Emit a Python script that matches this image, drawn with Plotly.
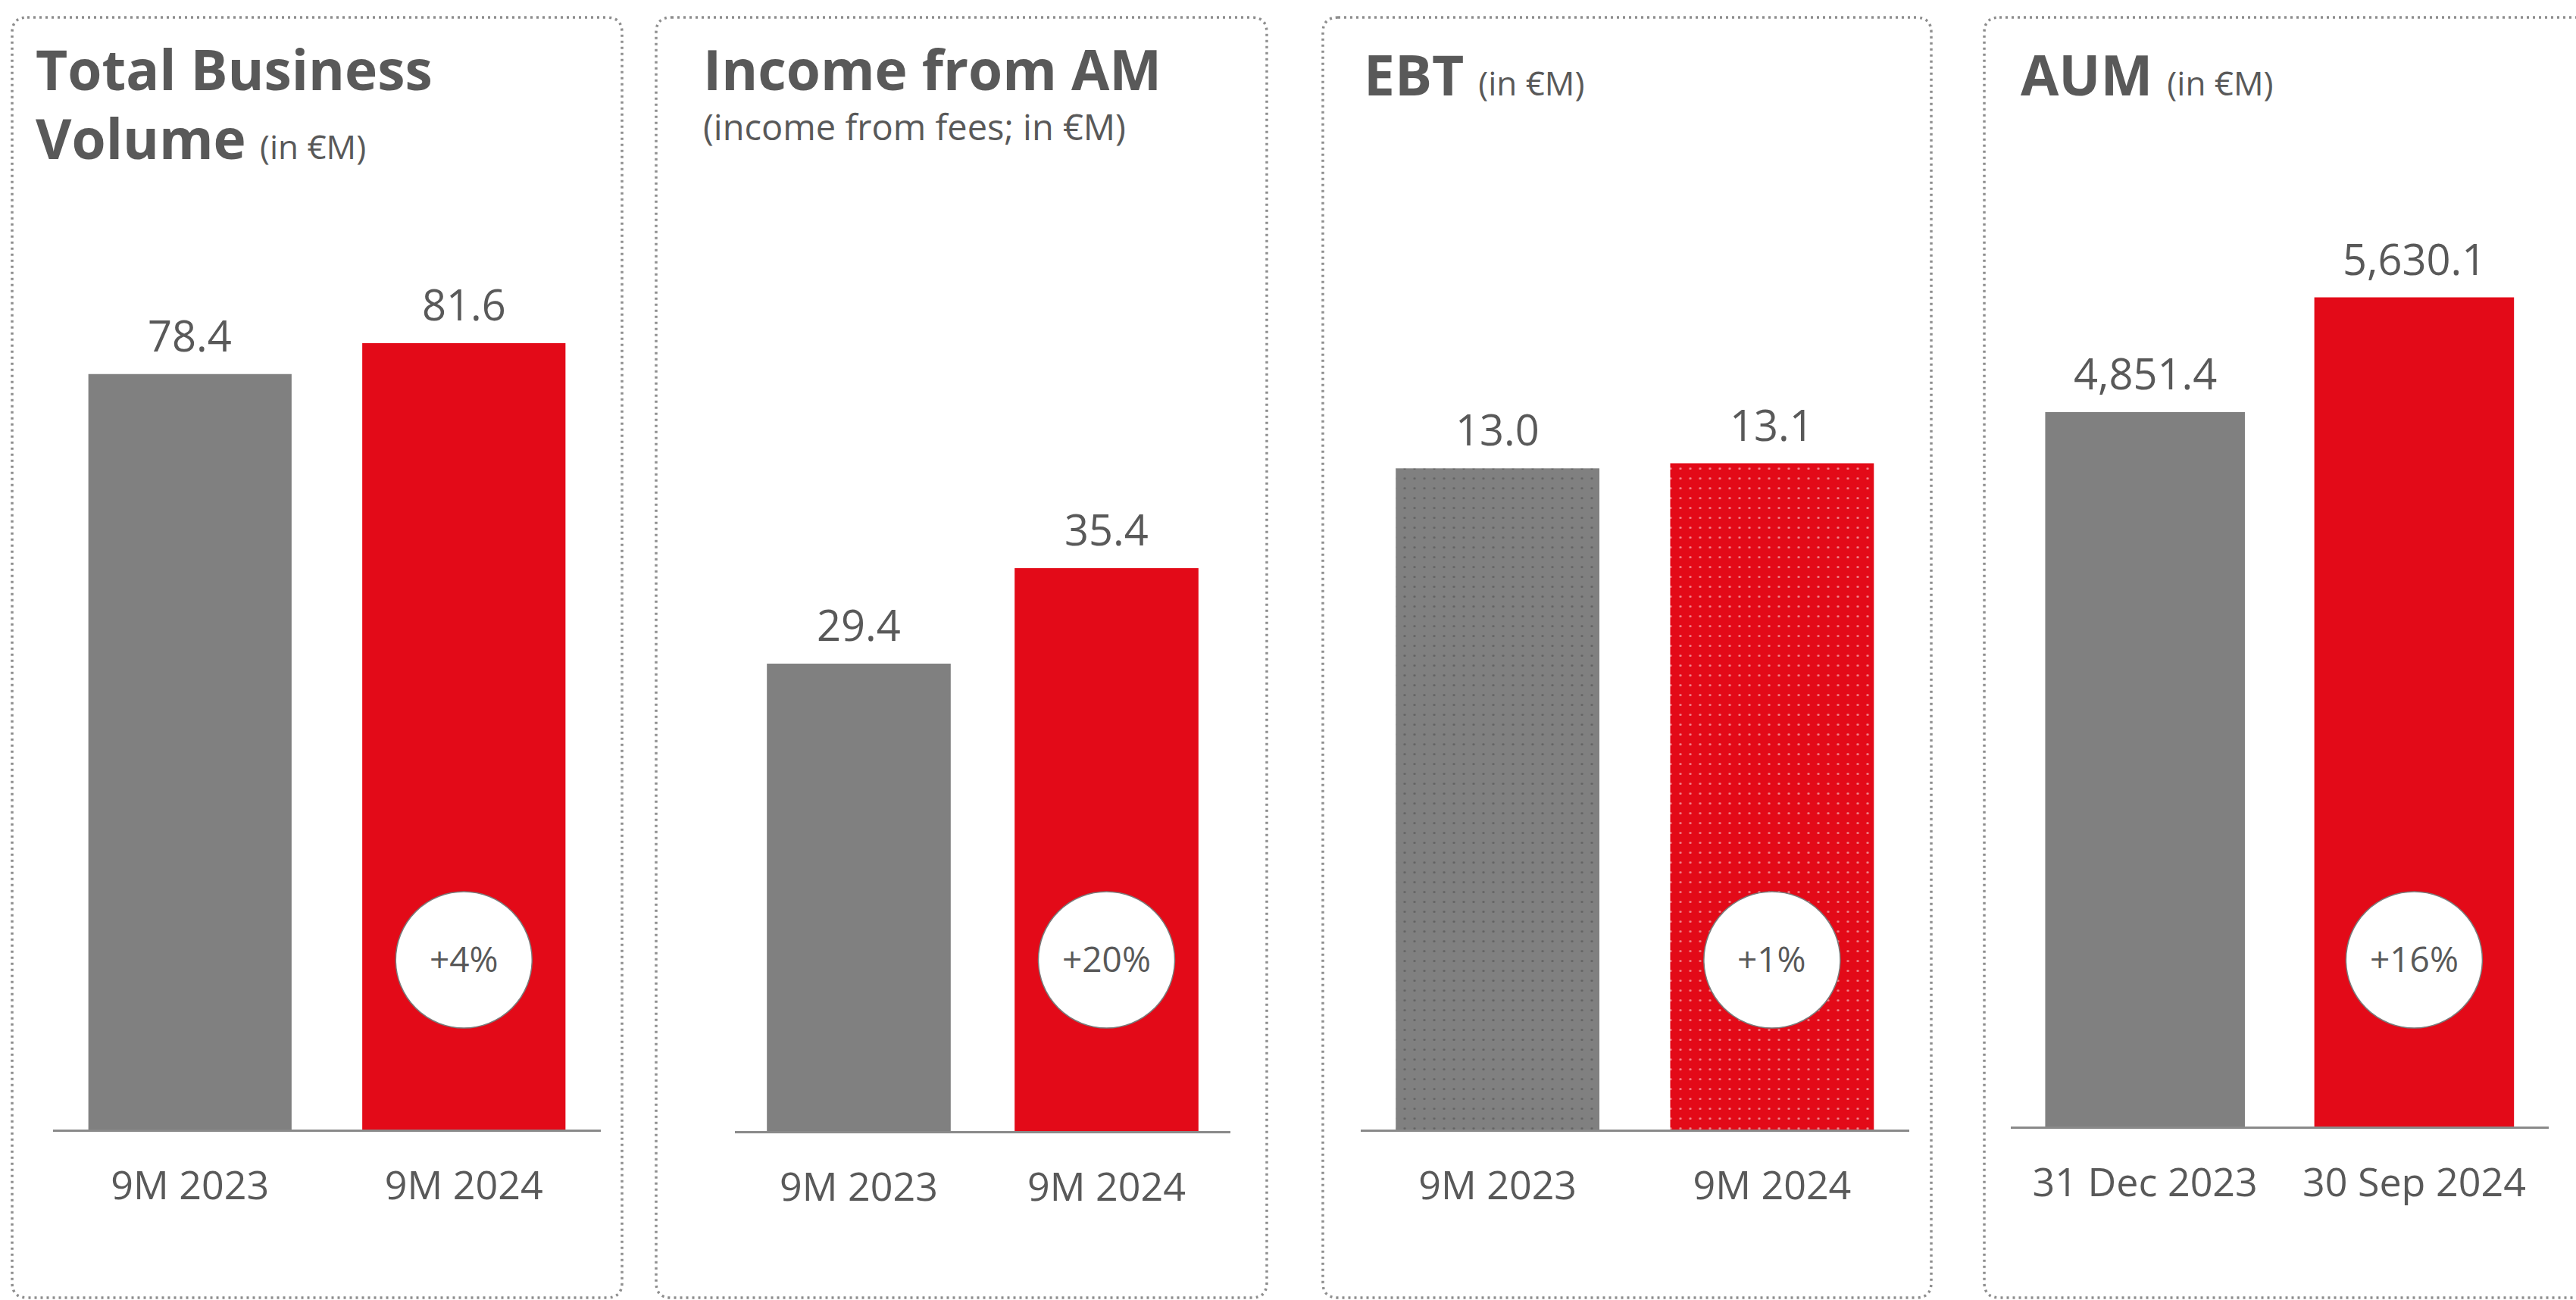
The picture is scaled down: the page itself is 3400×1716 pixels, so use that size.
import plotly.graph_objects as go

# ---- data -------------------------------------------------------------
tbv_periods = ["9M 2023", "9M 2024"]
tbv_values = [78.4, 81.6]

am_periods = ["9M 2023", "9M 2024"]
am_values = [29.4, 35.4]

ebt_periods = ["9M 2023", "9M 2024"]
ebt_values = [13.0, 13.1]

aum_dates = ["31 Dec 2023", "30 Sep 2024"]
aum_values = [4851.4, 5630.1]

# ---- styling ----------------------------------------------------------
W, H = 3400, 1716
GREY = "#808080"
RED = "#E30A18"
TEXT = "#595959"
FONT = "Open Sans"


def px_x(p):
    return p / W


def px_y(p):
    return 1 - p / H


# one entry per panel: data, axis geometry (pixels) and frame extent
panels = [
    dict(cats=tbv_periods, vals=tbv_values, x=(70, 793), base=1491, ymax=93.63,
         box=(16, 821), pattern=False),
    dict(cats=am_periods, vals=am_values, x=(970, 1624), base=1493, ymax=56.84,
         box=(866, 1672), pattern=False),
    dict(cats=ebt_periods, vals=ebt_values, x=(1795.5, 2520), base=1491, ymax=17.74,
         box=(1746, 2549), pattern=True),
    dict(cats=aum_dates, vals=aum_values, x=(2653.6, 3364), base=1487, ymax=6106,
         box=(2619, 3440), pattern=False),
]

PLOT_TOP = 300
BOX_TOP, BOX_BOTTOM, RADIUS = 23, 1713, 20
CIRCLE_Y, CIRCLE_R = 1267, 90

fig = go.Figure()
shapes, annotations = [], []

for i, p in enumerate(panels, start=1):
    xa = "x" if i == 1 else f"x{i}"
    ya = "y" if i == 1 else f"y{i}"
    xkey = "xaxis" if i == 1 else f"xaxis{i}"
    ykey = "yaxis" if i == 1 else f"yaxis{i}"

    marker = dict(color=[GREY, RED], line=dict(width=0))
    if p["pattern"]:
        marker["pattern"] = dict(shape=".", fillmode="overlay", fgcolor="white",
                                 size=13, solidity=0.045)

    fig.add_trace(go.Bar(x=p["cats"], y=p["vals"], xaxis=xa, yaxis=ya,
                         marker=marker, hoverinfo="skip", showlegend=False))

    fig.update_layout({
        xkey: dict(domain=[px_x(p["x"][0]), px_x(p["x"][1])], anchor=ya,
                   type="category", range=[-0.5, 1.5],
                   showline=True, linecolor="#8a8a8a", linewidth=3,
                   showgrid=False, zeroline=False, ticks="",
                   tickfont=dict(family=FONT, size=52, color=TEXT),
                   ticklabelstandoff=27, fixedrange=True),
        ykey: dict(domain=[px_y(p["base"]), px_y(PLOT_TOP)], anchor=xa,
                   range=[0, p["ymax"]], visible=False, fixedrange=True),
    })

    # value labels above the bars
    for c, v in zip(p["cats"], p["vals"]):
        annotations.append(dict(x=c, y=v, xref=xa, yref=ya, text=f"{v:,.1f}",
                                showarrow=False, yanchor="bottom", yshift=12,
                                font=dict(family=FONT, size=56, color=TEXT)))

    # growth bubble on the second bar
    growth = round((p["vals"][1] / p["vals"][0] - 1) * 100)
    shapes.append(dict(type="circle", xref=xa, yref="paper",
                       xsizemode="pixel", ysizemode="pixel",
                       xanchor=1, yanchor=px_y(CIRCLE_Y),
                       x0=-CIRCLE_R, x1=CIRCLE_R, y0=-CIRCLE_R, y1=CIRCLE_R,
                       fillcolor="white", line=dict(color="#7a7a7a", width=1.5),
                       layer="above"))
    annotations.append(dict(x=p["cats"][1], y=px_y(CIRCLE_Y), xref=xa, yref="paper",
                            yanchor="middle", yshift=2,
                            text=f"+{growth}%", showarrow=False,
                            font=dict(family=FONT, size=46, color=TEXT)))

    # dotted rounded frame around the panel
    l, r = px_x(p["box"][0]), px_x(p["box"][1])
    t, b = px_y(BOX_TOP), px_y(BOX_BOTTOM)
    rx, ry = RADIUS / W, RADIUS / H
    path = (f"M{l + rx},{t} L{r - rx},{t} Q{r},{t} {r},{t - ry} "
            f"L{r},{b + ry} Q{r},{b} {r - rx},{b} L{l + rx},{b} "
            f"Q{l},{b} {l},{b + ry} L{l},{t - ry} Q{l},{t} {l + rx},{t} Z")
    shapes.append(dict(type="path", path=path, xref="paper", yref="paper",
                       line=dict(color="#8e8e8e", width=3.5, dash="3px,5px"),
                       fillcolor="rgba(0,0,0,0)", layer="below"))

# ---- panel titles ------------------------------------------------------
# (left px, centre px, base font size, text); the base size sets line spacing
BIG, SUB = 73, 44
title_specs = [
    (45, 136, 70,
     f"<span style='font-size:{BIG}px'><b>Total Business</b></span><br>"
     f"<span style='font-size:{BIG}px'><b>Volume</b></span> "
     f"<span style='font-size:{SUB}px'>(in €M)</span>"),
    (926, 120, 51,
     f"<span style='font-size:{BIG}px'><b>Income from AM</b></span><br>"
     f"<span style='font-size:47px'>(income from fees; in €M)</span>"),
    (1798, 97, BIG, f"<b>EBT</b> <span style='font-size:{SUB}px'>(in €M)</span>"),
    (2665, 97, BIG, f"<b>AUM</b> <span style='font-size:{SUB}px'>(in €M)</span>"),
]
for x, y, size, txt in title_specs:
    annotations.append(dict(x=px_x(x), y=px_y(y), xref="paper", yref="paper",
                            xanchor="left", yanchor="middle", align="left",
                            text=txt, showarrow=False,
                            font=dict(family=FONT, size=size, color=TEXT)))

fig.update_layout(
    width=W, height=H,
    margin=dict(l=0, r=0, t=0, b=0),
    paper_bgcolor="white", plot_bgcolor="rgba(0,0,0,0)",
    bargap=0.258,
    shapes=shapes, annotations=annotations,
    font=dict(family=FONT, color=TEXT),
    showlegend=False,
)

fig.write_html("out.html", config={"displayModeBar": False, "staticPlot": True})
